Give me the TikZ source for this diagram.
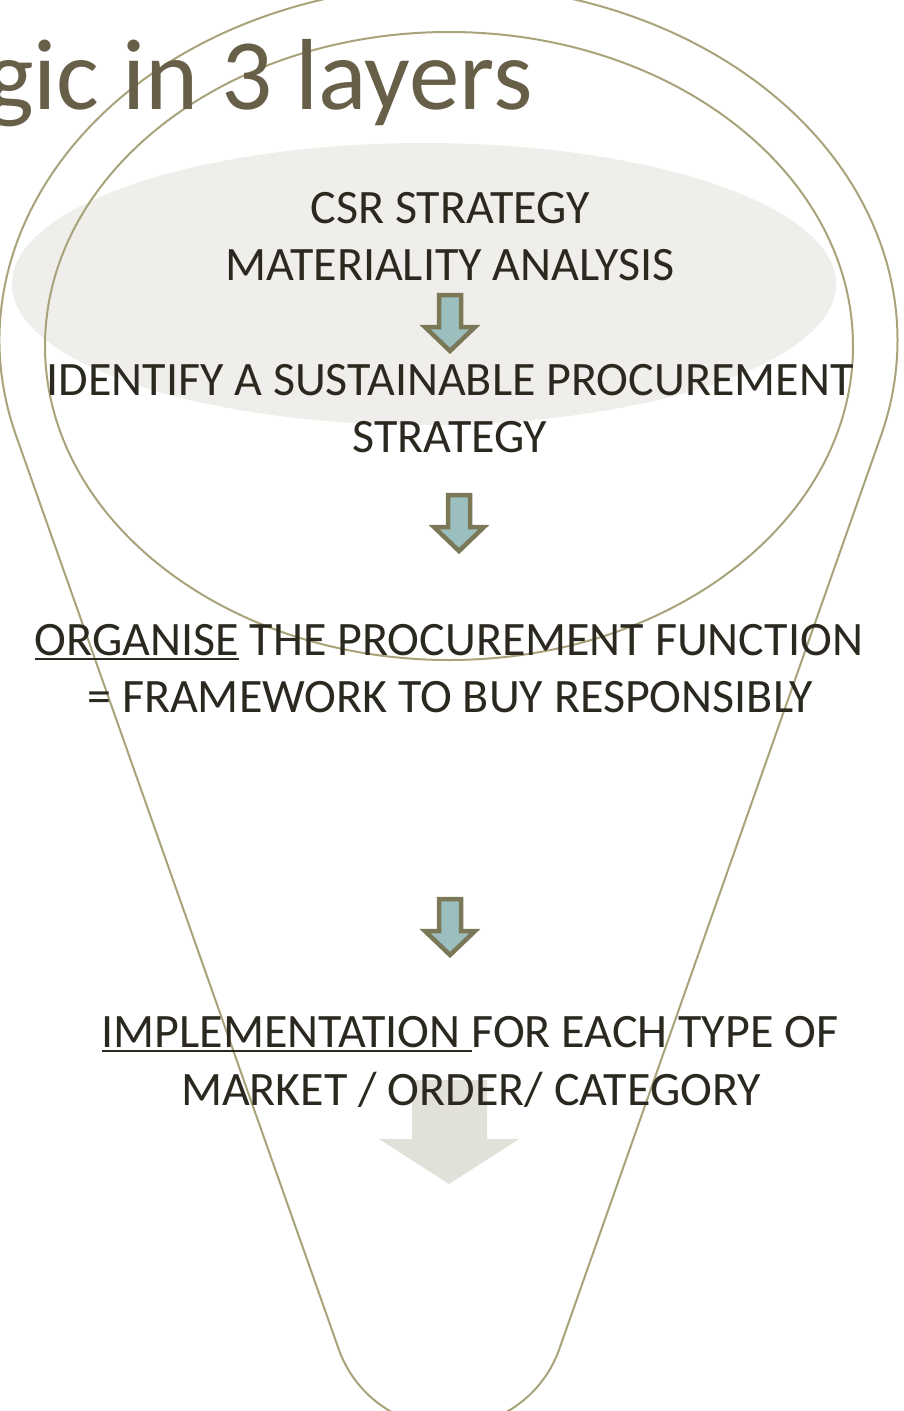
\documentclass[tikz,border=0pt]{standalone}
\usepackage{fontspec}
\setmainfont{Carlito}
\definecolor{titlec}{HTML}{675F48}
\definecolor{txtc}{HTML}{2B2820}
\definecolor{outl}{HTML}{A8A37B}
\definecolor{ellfill}{HTML}{EFEEEA}
\definecolor{arrb}{HTML}{7B7858}
\definecolor{arrf}{HTML}{9BBFBE}
\definecolor{faint}{HTML}{E1E1D9}
\newcommand\myul[1]{\setbox0\hbox{#1}\rlap{\rule[-5pt]{\wd0}{2pt}}\box0\relax}
\begin{document}
\begin{tikzpicture}[x=1pt,y=-1pt,
  outline/.style={draw=outl, line width=2pt},
  txt/.style={anchor=base, inner sep=0pt, text=txtc, font=\fontsize{48}{56}\selectfont},
  downarr/.pic={\draw[line width=4.5pt, draw=arrb, fill=arrf, line join=miter] (-11,2) -- (11,2) -- (11,34) -- (25,34) -- (0,58) -- (-25,34) -- (-11,34) -- cycle;}
]
\useasboundingbox (0,0) rectangle (903,1411);
\clip (0,0) rectangle (903,1411);
% background ellipse
\fill[ellfill] (424,284) ellipse [x radius=412, y radius=141];
% faint big arrow
\fill[faint] (412,1080) -- (487,1080) -- (487,1139) -- (519,1139) -- (449,1184) -- (379,1139) -- (412,1139) -- cycle;
% lightbulb outline
\draw[outline] (16.1,435.7) arc[start angle=164.4, end angle=375.6, x radius=449, y radius=355]
  -- (560,1347) arc[start angle=18.4, end angle=161.6, radius=117] -- cycle;
% inner ellipse
\draw[outline] (449,346) ellipse [x radius=404, y radius=314];
% title
\node[anchor=base east, inner sep=0pt, text=titlec, font=\fontsize{101}{110}\selectfont] (title) at (533,109) {gic in 3 layers};
% texts
\node[txt] (csr) at (450,223) {CSR STRATEGY};
\node[txt] (mat) at (450,280) {MATERIALITY ANALYSIS};
\pic at (450,293) {downarr};
\node[txt] (ident) at (450,395) {IDENTIFY A SUSTAINABLE PROCUREMENT};
\node[txt] (strat) at (450,452) {STRATEGY};
\pic at (459,493) {downarr};
\node[txt] (org) at (449,655) {\myul{ORGANISE} THE PROCUREMENT FUNCTION};
\node[txt] (frame) at (450,712) {= FRAMEWORK TO BUY RESPONSIBLY};
\pic at (450,897) {downarr};
\node[txt] (impl) at (470,1047) {\myul{IMPLEMENTATION }FOR EACH TYPE OF};
\node[txt] (market) at (471,1105) {MARKET / ORDER/ CATEGORY};
\end{tikzpicture}
\end{document}
